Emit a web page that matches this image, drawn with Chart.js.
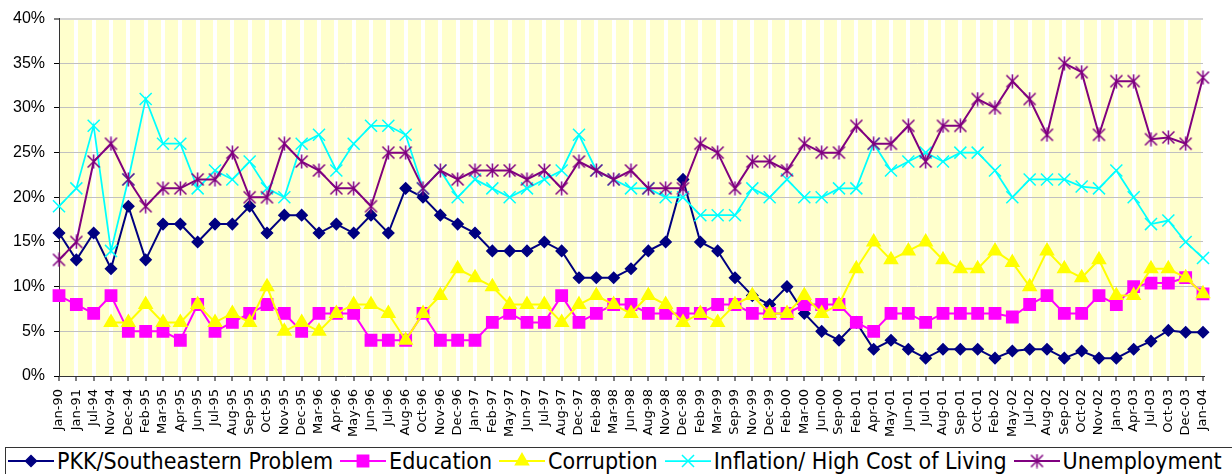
<!DOCTYPE html>
<html>
<head>
<meta charset="utf-8">
<script src="https://cdn.jsdelivr.net/npm/chart.js@4.4.1/dist/chart.umd.min.js"></script>
<style>
  html, body { margin: 0; padding: 0; background: #fff; overflow: hidden; }
  #wrap { position: relative; width: 1232px; height: 474px; overflow: hidden; }
  #chart-box { position: absolute; left: 0; top: 0; width: 1232px; height: 444px; }
  #legend {
    position: absolute; left: 5px; top: 447px; width: 1260px; height: 40px;
    border: 1px solid #333; box-sizing: border-box; padding-left: 2px;
    font-family: "DejaVu Sans Condensed", "DejaVu Sans", sans-serif; font-size: 23px;
    line-height: 26px; white-space: nowrap; color: #000;
  }
  #legend .item { display: inline-flex; align-items: center; margin-right: 7px; }
  #legend canvas { margin-right: 3px; }
</style>
</head>
<body>
<div id="wrap">
  <div id="chart-box"><canvas id="poll-chart"></canvas></div>
  <div id="legend"></div>
</div>
<script>
// Survey dates (category axis)
const surveyDates = [
    'Jan-90', 'Jan-91', 'Jul-94', 'Nov-94', 'Dec-94', 'Feb-95', 'Mar-95', 'Apr-95', 'Jun-95', 'Jul-95',
    'Aug-95', 'Sep-95', 'Oct-95', 'Nov-95', 'Dec-95', 'Mar-96', 'Apr-96', 'May-96', 'Jun-96', 'Jul-96',
    'Aug-96', 'Oct-96', 'Nov-96', 'Dec-96', 'Jan-97', 'Feb-97', 'May-97', 'Jun-97', 'Jul-97', 'Aug-97',
    'Dec-97', 'Feb-98', 'Mar-98', 'Jun-98', 'Aug-98', 'Nov-98', 'Dec-98', 'Feb-99', 'Mar-99', 'Sep-99',
    'Nov-99', 'Dec-99', 'Feb-00', 'Mar-00', 'Jun-00', 'Sep-00', 'Feb-01', 'Apr-01', 'May-01', 'Jun-01',
    'Jul-01', 'Aug-01', 'Sep-01', 'Oct-01', 'Feb-02', 'May-02', 'Jul-02', 'Aug-02', 'Sep-02', 'Oct-02',
    'Nov-02', 'Jan-03', 'Apr-03', 'Jul-03', 'Oct-03', 'Dec-03', 'Jan-04'
];

// Share of respondents naming each problem (%)
const pkkValues = [
    16, 13, 16, 12, 19, 13, 17, 17, 15, 17, 17, 19, 16, 18, 18, 16, 17,
    16, 18, 16, 21, 20, 18, 17, 16, 14, 14, 14, 15, 14, 11, 11, 11, 12,
    14, 15, 22, 15, 14, 11, 9, 8, 10, 7, 5, 4, 6, 3, 4, 3,
    2, 3, 3, 3, 2, 2.8, 3, 3, 2, 2.8, 2, 2, 3, 3.9, 5.1, 4.9, 4.9
];
const educationValues = [
    9, 8, 7, 9, 5, 5, 5, 4, 8, 5, 6, 7, 8, 7, 5, 7, 7,
    7, 4, 4, 4, 7, 4, 4, 4, 6, 7, 6, 6, 9, 6, 7, 8, 8,
    7, 7, 7, 7, 8, 8, 7, 7, 7, 8, 8, 8, 6, 5, 7, 7,
    6, 7, 7, 7, 7, 6.6, 8, 9, 7, 7, 9, 8, 10, 10.4, 10.4, 11, 9.2
];
const corruptionValues = [
    null, null, null, 6, 6, 8, 6, 6, 8, 6, 7, 6, 10, 5, 6, 5, 7,
    8, 8, 7, 4, 7, 9, 12, 11, 10, 8, 8, 8, 6, 8, 9, 8, 7,
    9, 8, 6, 7, 6, 8, 9, 7, 7, 9, 7, 8, 12, 15, 13, 14,
    15, 13, 12, 12, 14, 12.7, 10, 14, 12, 11, 13, 9, 9, 12, 12, 11, 9.2
];
const inflationValues = [
    19, 21, 28, 14, 22, 31, 26, 26, 21, 23, 22, 24, 21, 20, 26, 27, 23,
    26, 28, 28, 27, 21, 23, 20, 22, 21, 20, 21, 22, 23, 27, 23, 22, 21,
    21, 20, 20, 18, 18, 18, 21, 20, 22, 20, 20, 21, 21, 26, 23, 24,
    25, 24, 25, 25, 23, 20, 22, 22, 22, 21.2, 21, 23, 20, 17, 17.4, 15, 13.2
];
const unemploymentValues = [
    13, 15, 24, 26, 22, 19, 21, 21, 22, 22, 25, 20, 20, 26, 24, 23, 21,
    21, 19, 25, 25, 21, 23, 22, 23, 23, 23, 22, 23, 21, 24, 23, 22, 23,
    21, 21, 21, 26, 25, 21, 24, 24, 23, 26, 25, 25, 28, 26, 26, 28,
    24, 28, 28, 31, 30, 33, 31, 27, 35, 34, 27, 33, 33, 26.5, 26.7, 26, 33.4
];

const yTicks = [0, 5, 10, 15, 20, 25, 30, 35, 40];

// Excel-style asterisk marker: an X with a vertical bar
function makeStar(color) {
    const c = document.createElement('canvas');
    c.width = 15;
    c.height = 15;
    const g = c.getContext('2d');
    g.strokeStyle = color;
    g.lineWidth = 1.5;
    g.beginPath();
    g.moveTo(1.5, 1.5); g.lineTo(13.5, 13.5);
    g.moveTo(13.5, 1.5); g.lineTo(1.5, 13.5);
    g.moveTo(7.5, 0.5); g.lineTo(7.5, 14.5);
    g.stroke();
    return c;
}

function series(label, data, color, style, radius, order, lineWidth) {
    return {
        label: label,
        data: data,
        borderColor: color,
        backgroundColor: color,
        borderWidth: lineWidth || 2,
        pointStyle: style,
        pointRadius: radius,
        pointHoverRadius: radius,
        pointBackgroundColor: color,
        pointBorderColor: color,
        pointBorderWidth: 1.5,
        tension: 0,
        fill: false,
        clip: false,
        order: order
    };
}

// Yellow plot area (drawn under the white vertical grid)
const plotBg = {
    id: 'plotBg',
    beforeDraw(chart) {
        const { ctx, chartArea: a } = chart;
        ctx.save();
        ctx.fillStyle = '#FFFFCC';
        ctx.fillRect(a.left, a.top, a.right - a.left, a.bottom - a.top);
        ctx.restore();
    }
};

// Legend in a bordered box under the chart, built from the datasets
const htmlLegend = {
    id: 'htmlLegend',
    afterUpdate(chart) {
        const box = document.getElementById('legend');
        box.innerHTML = '';
        chart.data.datasets.forEach(ds => {
            const item = document.createElement('span');
            item.className = 'item';
            const sym = document.createElement('canvas');
            sym.width = 46;
            sym.height = 20;
            const g = sym.getContext('2d');
            g.strokeStyle = ds.borderColor;
            g.lineWidth = ds.borderWidth;
            g.beginPath();
            g.moveTo(0, 10);
            g.lineTo(46, 10);
            g.stroke();
            g.fillStyle = ds.pointBackgroundColor;
            g.strokeStyle = ds.pointBorderColor;
            g.lineWidth = ds.pointBorderWidth;
            Chart.helpers.drawPoint(g, {
                pointStyle: ds.pointStyle,
                radius: ds.pointRadius,
                rotation: 0,
                borderWidth: ds.pointBorderWidth
            }, 23, 10);
            const txt = document.createElement('span');
            txt.textContent = ds.label;
            item.appendChild(sym);
            item.appendChild(txt);
            box.appendChild(item);
        });
    }
};

const ctx = document.getElementById('poll-chart').getContext('2d');
new Chart(ctx, {
    type: 'line',
    data: {
        labels: surveyDates,
        datasets: [
            series('PKK/Southeastern Problem', pkkValues, '#000080', 'rectRot', 5.5, 5),
            series('Education', educationValues, '#FF00FF', 'rect', 8, 4),
            series('Corruption', corruptionValues, '#FFFF00', 'triangle', 7.5, 3),
            series('Inflation/ High Cost of Living', inflationValues, '#00FFFF', 'crossRot', 8.5, 2, 1.75),
            series('Unemployment', unemploymentValues, '#800080', makeStar('#800080'), 7.5, 1)
        ]
    },
    options: {
        responsive: true,
        maintainAspectRatio: false,
        animation: false,
        layout: { padding: { top: 17, right: 29, left: 0, bottom: 0 } },
        plugins: {
            legend: { display: false },
            tooltip: { enabled: false }
        },
        scales: {
            x: {
                type: 'category',
                offset: false,
                grid: {
                    color: c => (c.index === 0 ? 'rgba(0,0,0,0)' : '#FFFFFF'),
                    lineWidth: 4,
                    tickColor: '#000000',
                    tickWidth: 1,
                    tickLength: 5
                },
                border: { color: '#333333', width: 1 },
                ticks: {
                    autoSkip: false,
                    maxRotation: 90,
                    minRotation: 90,
                    padding: 8,
                    color: '#000000',
                    font: { family: 'DejaVu Sans', size: 13 }
                },
                afterFit(scale) { scale.height = 68; }
            },
            y: {
                min: yTicks[0],
                max: yTicks[yTicks.length - 1],
                afterBuildTicks(scale) { scale.ticks = yTicks.map(v => ({ value: v })); },
                grid: {
                    color: c => (c.tick && c.tick.value === 40 ? '#D4D4D4' : '#C0C0C0'),
                    lineWidth: c => (c.tick && c.tick.value === 40 ? 2 : 1),
                    tickColor: '#000000',
                    tickWidth: 1,
                    tickLength: 5
                },
                border: { color: '#333333', width: 1 },
                ticks: {
                    padding: 9,
                    color: '#000000',
                    font: { family: 'Liberation Sans', size: 16 },
                    callback: v => v + '%'
                },
                afterFit(scale) { scale.width = 59; }
            }
        }
    },
    plugins: [plotBg, htmlLegend]
});
</script>
</body>
</html>
